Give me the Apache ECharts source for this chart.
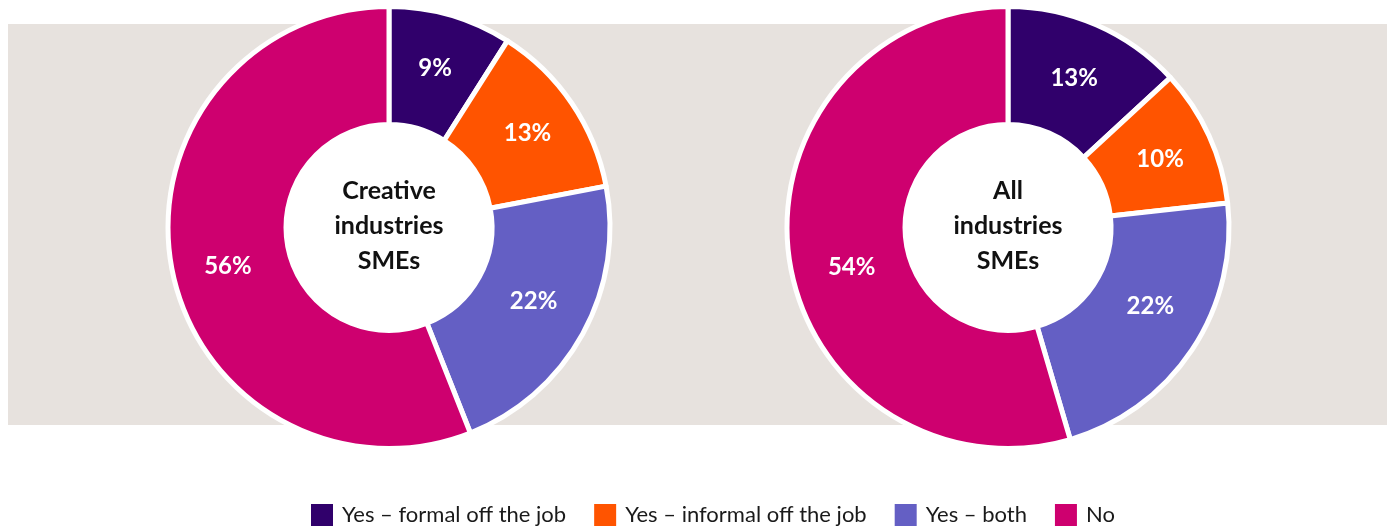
<!DOCTYPE html>
<html>
<head>
<meta charset="utf-8">
<script src="https://cdn.jsdelivr.net/npm/echarts@6/dist/echarts.min.js"></script>
<style>
html,body{margin:0;padding:0;background:#fff;}
#chart{width:1394px;height:529px;}
</style>
</head>
<body>
<div id="chart"></div>
<script>
const categories = ['Yes – formal off the job', 'Yes – informal off the job', 'Yes – both', 'No'];
const creativeValues = [9, 13, 22, 56];
const allValues = [13, 10, 22, 54];
const creativeTitle = 'Creative\nindustries\nSMEs';
const allTitle = 'All\nindustries\nSMEs';
const colors = ['#30006B', '#FF5400', '#645FC4', '#CE006F'];
// label nudges (style only)
const creativeLabelOffsets = [[0, -1], [2, -1], [0, -6], [1, 8]];
const allLabelOffsets = [[0, 2], [2, 0], [5, -13], [7, 16]];

const chart = echarts.init(document.getElementById('chart'), null, {renderer: 'canvas'});
const FONT = 'Lato, "Open Sans", sans-serif';
const CY = 227.5;

function pieSeries(name, values, cx, offsets) {
  return {
    name: name,
    type: 'pie',
    center: [cx, CY],
    radius: [103, 221],
    startAngle: 90,
    clockwise: true,
    avoidLabelOverlap: false,
    silent: true,
    itemStyle: {borderColor: '#ffffff', borderWidth: 5},
    label: {
      show: true,
      position: 'inside',
      formatter: '{c}%',
      color: '#ffffff',
      fontSize: 24,
      fontWeight: 'bold',
      fontFamily: FONT
    },
    labelLine: {show: false},
    data: categories.map((c, i) => ({name: c, value: values[i], label: {offset: offsets[i]}}))
  };
}

function centerGraphics(cx, text) {
  return [
    {type: 'circle', z: 5, silent: true, shape: {cx: cx, cy: CY, r: 104}, style: {fill: '#ffffff'}},
    {type: 'text', z: 10, x: cx, y: CY - 2, style: {text: text, fill: '#111', font: 'bold 25px ' + FONT, textAlign: 'center', textVerticalAlign: 'middle', lineHeight: 35}}
  ];
}

chart.setOption({
  animation: false,
  color: colors,
  graphic: [
    {type: 'rect', z: -10, silent: true, shape: {x: 8, y: 24, width: 1379, height: 401}, style: {fill: '#E7E2DE'}}
  ].concat(centerGraphics(389, creativeTitle), centerGraphics(1008, allTitle)),
  legend: {
    data: categories,
    left: 304,
    top: 497,
    icon: 'rect',
    itemWidth: 24,
    itemHeight: 24,
    itemGap: 26,
    selectedMode: false,
    textStyle: {fontSize: 22, color: '#1a1a1a', fontFamily: FONT, padding: [0, 0, 0, 3]}
  },
  series: [
    pieSeries('Creative industries SMEs', creativeValues, 389, creativeLabelOffsets),
    pieSeries('All industries SMEs', allValues, 1008, allLabelOffsets)
  ]
});
</script>
</body>
</html>
